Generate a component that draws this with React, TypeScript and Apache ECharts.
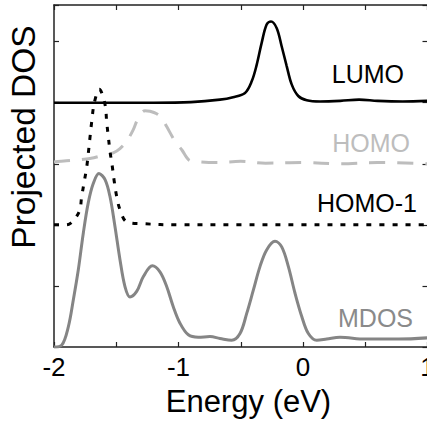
import React, { useEffect, useRef } from "react";
import * as echarts from "echarts";

// ---- data ----
const xTickValues = [-2, -1, 0, 1];
const xTickLabels = ["-2", "-1", "0", "1"];

const lumoEnergy = [-2, -1.6, -1.2, -0.9, -0.667, -0.562, -0.466, -0.412, -0.372, -0.332, -0.292, -0.257, -0.211, -0.171, -0.131, -0.091, -0.038, 0.03, 0.137, 0.3, 0.45, 0.6, 0.8, 1];
const lumoDos = [4.0, 4.0, 4.0, 4.01, 4.05, 4.09, 4.16, 4.35, 4.62, 4.98, 5.28, 5.33, 5.22, 4.92, 4.6, 4.3, 4.11, 4.04, 4.02, 4.03, 4.05, 4.03, 4.02, 4.03];

const homoEnergy = [-2, -1.9, -1.778, -1.68, -1.59, -1.524, -1.47, -1.416, -1.363, -1.323, -1.269, -1.229, -1.175, -1.135, -1.095, -1.028, -0.974, -0.908, -0.827, -0.7, -0.5, -0.3, 0, 0.3, 0.6, 1];
const homoDos = [3.03, 3.05, 3.07, 3.1, 3.15, 3.18, 3.25, 3.37, 3.56, 3.75, 3.87, 3.86, 3.82, 3.75, 3.61, 3.37, 3.23, 3.05, 3.03, 3.02, 3.04, 3.01, 3.02, 3.0, 3.02, 3.0];

const homo1Energy = [-2, -1.92, -1.871, -1.797, -1.778, -1.757, -1.737, -1.724, -1.711, -1.697, -1.676, -1.636, -1.59, -1.577, -1.564, -1.55, -1.532, -1.516, -1.496, -1.47, -1.416, -1.296, -1.0, -0.5, 0, 0.5, 1];
const homo1Dos = [2.0, 2.0, 2.02, 2.22, 2.46, 2.71, 2.95, 3.18, 3.43, 3.69, 4.0, 4.22, 3.97, 3.69, 3.45, 3.2, 2.96, 2.71, 2.46, 2.25, 2.05, 2.02, 2.0, 2.0, 2.0, 2.0, 2.0];

const mdosEnergy = [-2, -1.938, -1.885, -1.845, -1.805, -1.765, -1.725, -1.684, -1.639, -1.59, -1.55, -1.51, -1.47, -1.43, -1.39, -1.336, -1.283, -1.21, -1.149, -1.095, -1.042, -0.988, -0.921, -0.841, -0.747, -0.667, -0.573, -0.506, -0.452, -0.399, -0.345, -0.292, -0.225, -0.171, -0.118, -0.064, -0.01, 0.043, 0.11, 0.19, 0.297, 0.5, 0.77, 1];
const mdosDos = [0.0, 0.03, 0.33, 0.77, 1.26, 1.86, 2.36, 2.68, 2.84, 2.74, 2.46, 1.97, 1.43, 0.99, 0.82, 0.91, 1.15, 1.33, 1.23, 0.99, 0.66, 0.39, 0.2, 0.16, 0.17, 0.14, 0.11, 0.22, 0.55, 0.93, 1.32, 1.59, 1.73, 1.64, 1.32, 0.88, 0.5, 0.22, 0.11, 0.13, 0.16, 0.13, 0.13, 0.15];

const pairs = (xs: number[], ys: number[]) => xs.map((x, i) => [x, ys[i]]);

const FONT = "'Liberation Sans', Arial, Helvetica, sans-serif";
const AXIS_COLOR = "#222";

export default function App() {
  const ref = useRef<HTMLDivElement>(null);
  useEffect(() => {
    if (!ref.current) return;
    const chart = echarts.init(ref.current, undefined, { renderer: "svg" });
    const axisCommon = {
      axisLine: { show: true, onZero: false, lineStyle: { color: AXIS_COLOR, width: 1.5 } },
      axisTick: { show: true, inside: true, length: 5, lineStyle: { color: AXIS_COLOR, width: 1.2 } },
      splitLine: { show: false },
    };
    const xFmt = (v: number) => {
      const i = xTickValues.findIndex((t) => Math.abs(t - v) < 1e-9);
      return i >= 0 ? xTickLabels[i] : "";
    };
    chart.setOption({
      animation: false,
      grid: { left: 54, top: 5, width: 373.5, height: 342 },
      xAxis: [
        {
          type: "value", min: -2, max: 1, interval: 0.5, position: "bottom",
          ...axisCommon,
          axisLabel: { show: true, formatter: xFmt, color: "#000", fontSize: 26, fontFamily: FONT, margin: 7, showMinLabel: true, showMaxLabel: true, hideOverlap: false },
        },
        {
          type: "value", min: -2, max: 1, interval: 0.5, position: "top",
          ...axisCommon,
          axisLabel: { show: false },
        },
      ],
      yAxis: [
        {
          type: "value", min: 0, max: 5.6, interval: 1, position: "left",
          ...axisCommon,
          axisLabel: { show: false },
        },
        {
          type: "value", min: 0, max: 5.6, interval: 1, position: "right",
          ...axisCommon,
          axisLabel: { show: false },
        },
      ],
      series: [
        {
          name: "MDOS", type: "line", data: pairs(mdosEnergy, mdosDos), showSymbol: false, smooth: 0.35,
          lineStyle: { color: "#858585", width: 3 }, z: 2,
        },
        {
          name: "HOMO-1", type: "line", data: pairs(homo1Energy, homo1Dos), showSymbol: false, smooth: 0.35,
          lineStyle: { color: "#000", width: 3, type: [5, 8] }, z: 3,
        },
        {
          name: "HOMO", type: "line", data: pairs(homoEnergy, homoDos), showSymbol: false, smooth: 0.35,
          lineStyle: { color: "#bdbdbd", width: 3, type: [16, 12] }, z: 2,
        },
        {
          name: "LUMO", type: "line", data: pairs(lumoEnergy, lumoDos), showSymbol: false, smooth: 0.35,
          lineStyle: { color: "#000", width: 2.6 }, z: 3,
        },
      ],
      graphic: [
        { type: "text", x: 404, y: 74, style: { text: "LUMO", fill: "#000", font: `25px ${FONT}`, textAlign: "right", textVerticalAlign: "middle" } },
        { type: "text", x: 410, y: 142.5, style: { text: "HOMO", fill: "#bdbdbd", font: `25px ${FONT}`, textAlign: "right", textVerticalAlign: "middle" } },
        { type: "text", x: 417, y: 203, style: { text: "HOMO-1", fill: "#000", font: `25px ${FONT}`, textAlign: "right", textVerticalAlign: "middle" } },
        { type: "text", x: 413, y: 317.5, style: { text: "MDOS", fill: "#8a8a8a", font: `25px ${FONT}`, textAlign: "right", textVerticalAlign: "middle" } },
        { type: "text", x: 248.5, y: 401.5, style: { text: "Energy (eV)", fill: "#000", font: `31px ${FONT}`, textAlign: "center", textVerticalAlign: "middle" } },
        { type: "text", x: 23, y: 137, rotation: Math.PI / 2, style: { text: "Projected DOS", fill: "#000", font: `33.5px ${FONT}`, textAlign: "center", textVerticalAlign: "middle" } },
      ],
    });
    return () => chart.dispose();
  }, []);
  return (
    <div style={{ position: "fixed", left: 0, top: 0, width: 427, height: 426, overflow: "hidden", background: "#fff" }}>
      <div ref={ref} style={{ width: 460, height: 426 }} />
    </div>
  );
}
